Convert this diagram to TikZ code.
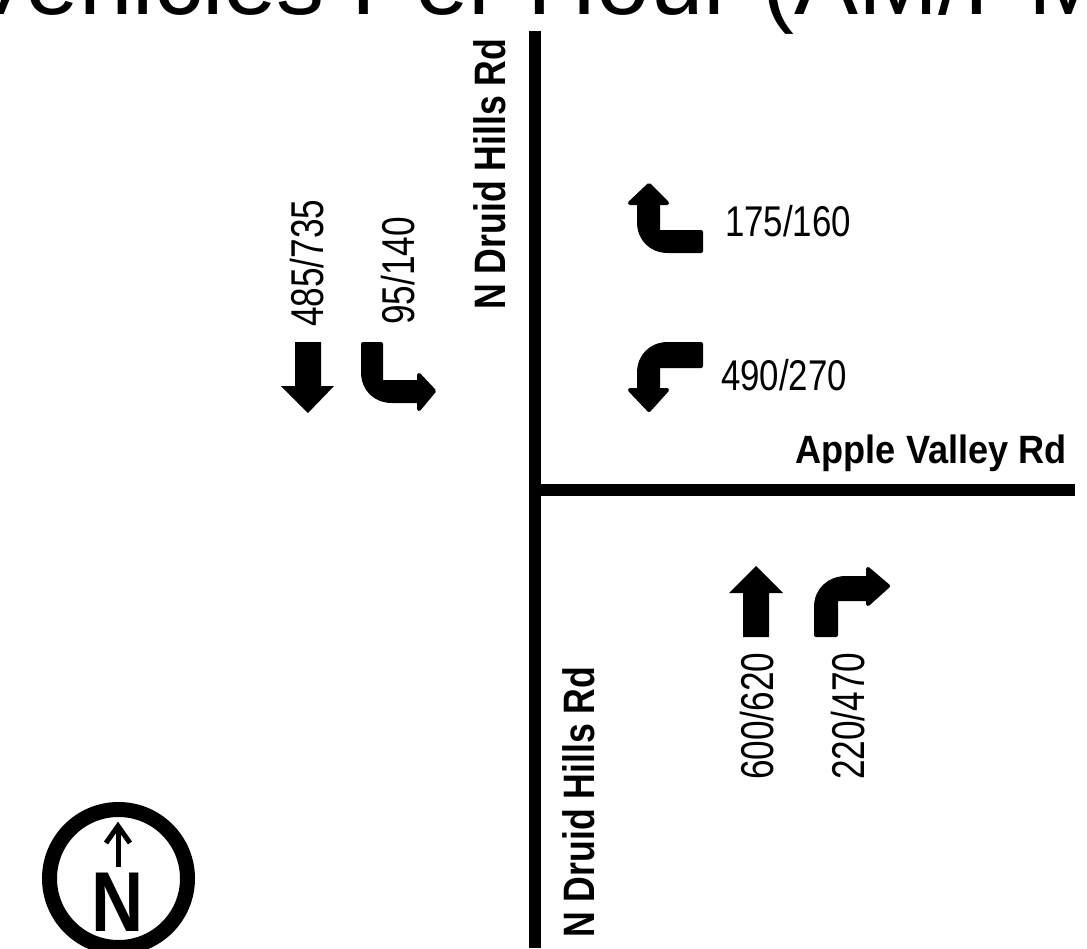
\documentclass[tikz,border=0pt]{standalone}
\usepackage{fontspec}
\setmainfont{Liberation Sans}
\newfontfamily\countfont[FakeStretch=0.81]{Liberation Sans}
\newfontfamily\upcountfont[FakeStretch=0.765]{Liberation Sans}
\newfontfamily\roadfont[FakeStretch=0.915]{Liberation Sans Bold}
\newfontfamily\uproadfont[FakeStretch=0.81]{Liberation Sans Bold}
\newfontfamily\northfont[FakeStretch=0.85]{Liberation Sans Bold}
\tikzset{
  road/.style={line width=12pt},
  flow/.style={fill=black, draw=black, line width=4pt, line join=round},
  count/.style={font=\countfont\fontsize{43}{43}\selectfont, inner sep=0pt},
  upcount/.style={font=\upcountfont\fontsize{46}{46}\selectfont, inner sep=0pt, rotate=90, anchor=base west},
  roadname/.style={font=\roadfont\fontsize{39.5}{40}\selectfont, inner sep=0pt},
  uproadname/.style={font=\uproadfont\fontsize{44}{44}\selectfont, inner sep=0pt, rotate=90, anchor=base west}
}
\begin{document}
\begin{tikzpicture}[x=1pt, y=-1pt]
  \useasboundingbox (0,0) rectangle (1087,948);
  \clip (0,0) rectangle (1087,948);
  % Title
  \node (title) [anchor=base west, inner sep=0pt, font=\fontsize{96}{96}\selectfont] at (-33,14) {Vehicles Per Hour (AM/PM)};
  % Roads
  \draw[road] (535,31) -- (535,948);
  \draw[road] (535,489.5) -- (1075,489.5);
  \node (druidnorth) [uproadname] at (505,310) {N Druid Hills Rd};
  \node (druidsouth) [uproadname] at (594,938) {N Druid Hills Rd};
  \node (applevalley) [roadname, anchor=base east] at (1067,463) {Apple Valley Rd};
  % Southbound
  \fill (295,342) -- (321,342) -- (321,386) -- (334,386) -- (308,413) -- (281,386) -- (295,386) -- cycle;
  \draw[flow] (363,344) -- (381,344) -- (381,382) -- (419,382) -- (419,375) -- (434,391) -- (419,409) -- (419,401) -- (392,401) .. controls (375,401) and (363,389) .. (363,372) -- cycle;
  \node (souththru) [upcount] at (323,327) {485/735};
  \node (southright) [upcount] at (414,325) {95/140};
  % Westbound
  \draw[flow] (649,185) -- (667,203) -- (658,203) -- (658,232) -- (701,232) -- (701,251) -- (668,251) .. controls (651,251) and (639,239) .. (639,222) -- (639,203) -- (630,203) -- cycle;
  \draw[flow] (649,410) -- (667,390) -- (658,390) -- (658,366) -- (701,366) -- (701,344) -- (668,344) .. controls (651,344) and (639,356) .. (639,373) -- (639,390) -- (630,390) -- cycle;
  \node (westleft) [count, anchor=base west] at (725,236) {175/160};
  \node (westright) [count, anchor=base west] at (721,390) {490/270};
  % Northbound
  \fill (743,637) -- (769,637) -- (769,593) -- (783,593) -- (756,566) -- (729,593) -- (743,593) -- cycle;
  \draw[flow] (816,635) -- (836,635) -- (836,599) -- (868,599) -- (868,604) -- (888,586) -- (868,569) -- (868,578) -- (846,578) .. controls (829,578) and (816,590) .. (816,607) -- cycle;
  \node (norththru) [upcount] at (773,780) {600/620};
  \node (northright) [upcount] at (864,780) {220/470};
  % North mark
  \draw[line width=15pt] (118.5,878.5) circle [radius=69];
  \node (northmark) [inner sep=0pt, anchor=base, font=\northfont\fontsize{85}{85}\selectfont] at (118,931) {N};
  \coordinate (needletip) at (118,826);
  \draw[line width=5pt] (118,867) -- (needletip);
  \draw[line width=5pt, line join=miter] (106,843) -- (needletip) -- (130,843);
\end{tikzpicture}
\end{document}
